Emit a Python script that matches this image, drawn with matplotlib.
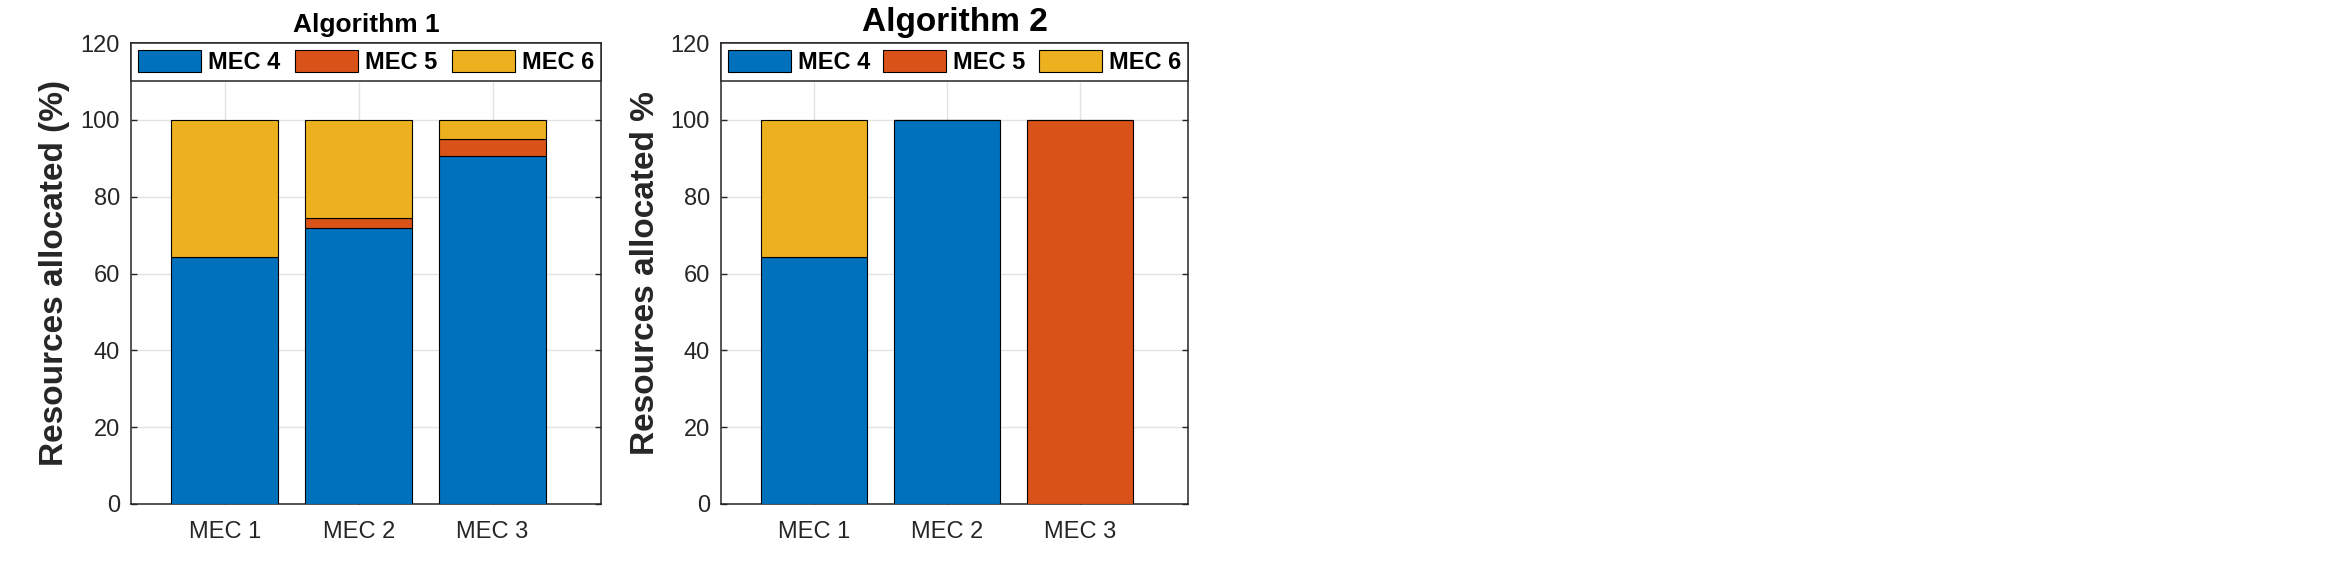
import matplotlib
matplotlib.use("Agg")
import matplotlib.pyplot as plt
import numpy as np

plt.rcParams['font.family'] = ['Liberation Sans', 'DejaVu Sans']

categories = ["MEC 1", "MEC 2", "MEC 3"]
series_names = ["MEC 4", "MEC 5", "MEC 6"]

alg1_mec4 = [64.3, 71.8, 90.7]
alg1_mec5 = [0.0, 2.6, 4.3]
alg1_mec6 = [35.7, 25.6, 5.0]

alg2_mec4 = [64.3, 100.0, 0.0]
alg2_mec5 = [0.0, 0.0, 100.0]
alg2_mec6 = [35.7, 0.0, 0.0]

yticks = [0, 20, 40, 60, 80, 100, 120]

colors = ["#0072BD", "#D95319", "#EDB120"]
dark = "#262626"

W, H = 2344, 567
fig = plt.figure(figsize=(W / 100, H / 100), dpi=100)

ax1 = fig.add_axes([131 / W, 1 - 504 / H, 470 / W, (504 - 43) / H])
ax2 = fig.add_axes([721 / W, 1 - 504 / H, 467 / W, (504 - 43) / H])


def draw(ax, s4, s5, s6, title, tsize, tpad, ylabel):
    x = np.arange(1, len(categories) + 1)
    bottom = np.zeros(len(categories))
    for vals, c, name in zip([s4, s5, s6], colors, series_names):
        ax.bar(x, vals, width=0.8, bottom=bottom, color=c, edgecolor="black",
               linewidth=0.8, label=name, zorder=3)
        bottom = bottom + np.array(vals)
    ax.set_xlim(0.3, 3.81)
    ax.set_ylim(0, 120)
    ax.set_xticks(x)
    ax.set_xticklabels(categories)
    ax.set_yticks(yticks)
    ax.tick_params(axis="both", direction="in", length=4, width=1,
                   colors=dark, labelsize=17, top=True, right=True, pad=8)
    ax.tick_params(axis="x", pad=12)
    for sp in ax.spines.values():
        sp.set_color(dark)
        sp.set_linewidth(1.1)
    ax.grid(True, color="#e3e3e3", linewidth=1)
    ax.set_axisbelow(True)
    ax.set_title(title, fontsize=tsize, fontweight="bold", pad=tpad, color="black")
    ax.set_ylabel(ylabel, fontsize=24, fontweight="bold", color=dark, va="center")
    ax.yaxis.set_label_coords(-76 / 470, 0.5)
    leg = ax.legend(loc="upper left", bbox_to_anchor=(0, 0, 1, 1), mode="expand",
                    ncol=3, borderaxespad=0,
                    prop={"weight": "bold", "size": 17},
                    handlelength=2.67, handleheight=1.06, handletextpad=0.3,
                    borderpad=0.3, fancybox=False, framealpha=1,
                    edgecolor=dark)
    leg.get_frame().set_linewidth(1.1)
    leg.set_zorder(10)


draw(ax1, alg1_mec4, alg1_mec5, alg1_mec6, "Algorithm 1", 19, 8,
     "Resources allocated (%)")
draw(ax2, alg2_mec4, alg2_mec5, alg2_mec6, "Algorithm 2", 24, 9,
     "Resources allocated %")

fig.savefig("out.png", dpi=100, facecolor="white")
